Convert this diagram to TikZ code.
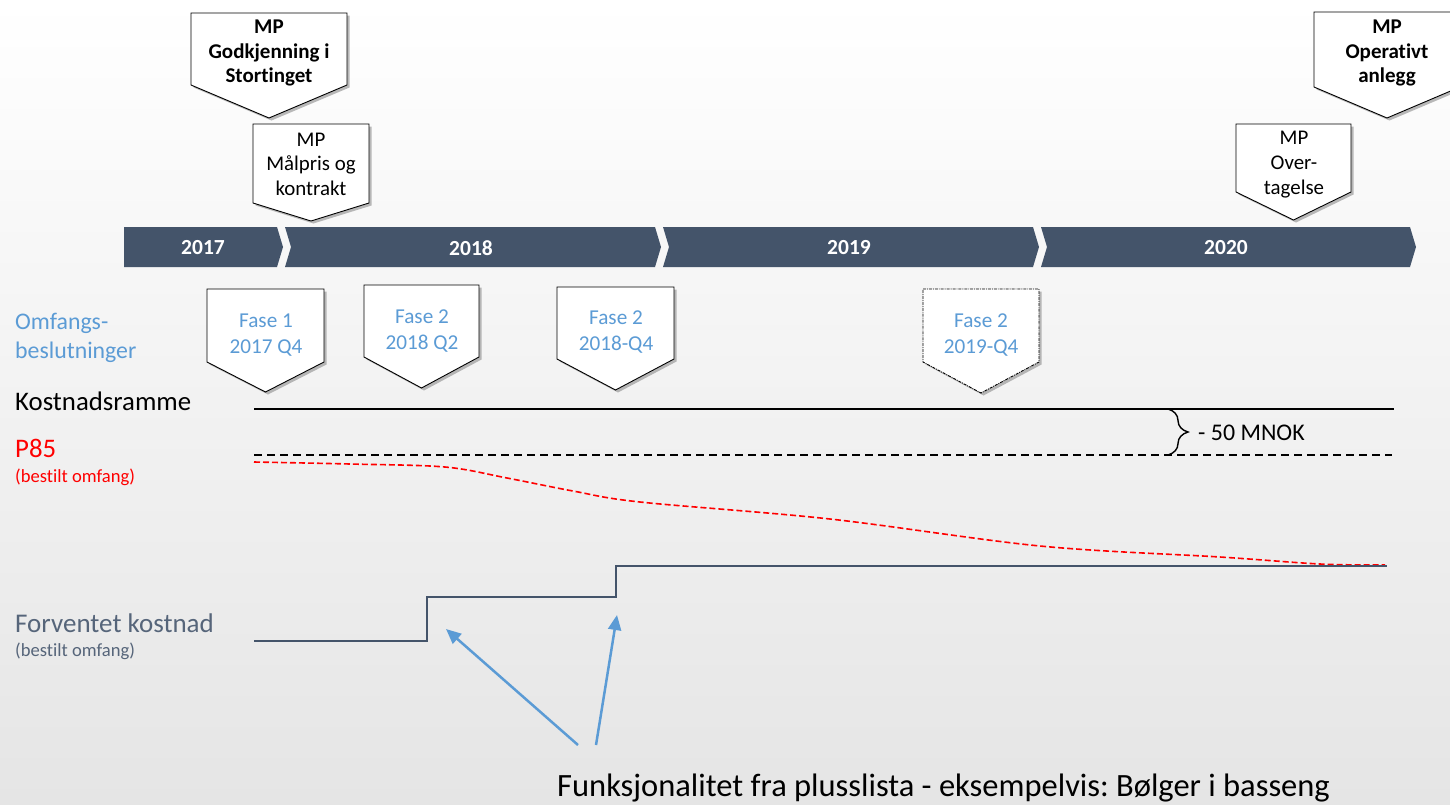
\documentclass[tikz,border=0pt]{standalone}
\usepackage{fontspec}
\setmainfont{Carlito}[Ligatures=NoCommon]
\usetikzlibrary{arrows.meta,decorations.pathreplacing}

\definecolor{slate}{HTML}{44546A}
\definecolor{skyblue}{HTML}{5B9BD5}
\definecolor{costgray}{HTML}{56657A}
\definecolor{bgbottom}{HTML}{E5E5E5}

\newcommand{\fsz}[2]{\fontsize{#1}{#2}\selectfont}

% pentagon marker with a soft drop shadow:
% #1 extra border style, #2 left x, #3 top y, #4 right x, #5 shoulder y, #6 tip y
\newcommand{\marker}[6][]{%
  \fill[markshadow,shift={(2.5,2.5)}] (#2,#3) -- (#4,#3) -- (#4,#5) -- ({(#2+#4)/2},#6) -- (#2,#5) -- cycle;
  \draw[markborder,#1] (#2,#3) -- (#4,#3) -- (#4,#5) -- ({(#2+#4)/2},#6) -- (#2,#5) -- cycle;
}

% timeline segments: first one is a home plate, the rest chevrons
\newcommand{\firstseg}[2]{%
  \fill[slate] (#1,227) -- (#2,227) -- ({#2+6},247) -- (#2,267) -- (#1,267) -- cycle;
}
\newcommand{\nextseg}[2]{%
  \fill[slate] (#1,227) -- (#2,227) -- ({#2+6},247) -- (#2,267) -- (#1,267) -- ({#1+6},247) -- cycle;
}

\tikzset{
  markshadow/.style={fill=black!45,opacity=0.6},
  markborder/.style={draw=black,fill=white,line width=0.9pt,line join=miter},
  mstext/.style={align=center,inner sep=0pt},
  fasetext/.style={align=center,inner sep=0pt,text=skyblue,font=\fsz{21.2}{26}},
  yeartext/.style={inner sep=0pt,text=white,font=\bfseries\fsz{21.5}{24}},
  lefttext/.style={anchor=base west,inner sep=0pt,align=left},
  budget/.style={line width=1.4pt,black},
  budgetdash/.style={line width=1.6pt,black,dash pattern=on 8pt off 5pt},
  p85curve/.style={line width=1.6pt,red,dash pattern=on 6pt off 3pt},
  costline/.style={line width=2pt,slate,line join=miter},
  callout/.style={line width=2.5pt,skyblue,-{Triangle[length=15pt,width=13pt]}},
}

\begin{document}
\frenchspacing
\begin{tikzpicture}[x=1pt,y=-1pt]
\useasboundingbox (0,0) rectangle (1450,804);
\clip (0,0) rectangle (1450,804);
\shade[top color=white,bottom color=bgbottom] (0,0) rectangle (1450,804);

% ---- milestones above the timeline ----
\marker{191}{13}{347}{85}{118}
\node[mstext,font=\bfseries\fsz{21}{24.5}] (mpstorting) at (269,53) {MP\\Godkjenning i\\Stortinget};
\marker{253}{124}{369}{203}{221}
\node[mstext,font=\fsz{20.9}{24.5}] (mpmalpris) at (311,164) {MP\\Målpris og\\kontrakt};
\marker{1314}{12}{1460}{87}{118}
\node[mstext,font=\bfseries\fsz{21}{24.5}] (mpoperativt) at (1387,53) {MP\\Operativt\\anlegg};
\marker{1236}{124}{1351}{192}{220}
\node[mstext,font=\fsz{20.9}{25}] (mpovertagelse) at (1294,165) {MP\\Over-\\tagelse};

% ---- timeline ----
\firstseg{124}{277}
\nextseg{285}{655}
\nextseg{663}{1033}
\nextseg{1041}{1410}
\node[yeartext] (y2017) at (203,248) {2017};
\node[yeartext] (y2018) at (471,248) {2018};
\node[yeartext] (y2019) at (849,248) {2019};
\node[yeartext] (y2020) at (1226,248) {2020};

% ---- scope decisions ----
\marker{207}{289}{324}{362}{392}
\node[fasetext] (fase1) at (266,335) {Fase 1\\2017 Q4};
\marker{364}{285}{479}{357}{388}
\node[fasetext] (fase2a) at (422,331) {Fase 2\\2018 Q2};
\marker{557}{287}{674}{359}{390}
\node[fasetext] (fase2b) at (616,332) {Fase 2\\2018-Q4};
\marker[densely dash dot,line width=0.9pt]{923}{289}{1039}{362}{393}
\node[fasetext] (fase2c) at (981,335) {Fase 2\\2019-Q4};

% ---- row labels ----
\node[lefttext,text=skyblue,font=\fsz{23.8}{28.5}] (lblomfang) at (15,358) {Omfangs-\\beslutninger};
\node[lefttext,font=\fsz{26.8}{30}] (lblramme) at (15,410) {Kostnadsramme};
\node[lefttext,text=red,font=\fsz{26.8}{30}] (lblp85) at (15,457) {P85};
\node[lefttext,text=red,font=\fsz{18.6}{22}] (lblp85sub) at (15,482) {(bestilt omfang)};
\node[lefttext,text=costgray,font=\fsz{27}{30}] (lblcost) at (15,632) {Forventet kostnad};
\node[lefttext,text=costgray,font=\fsz{18.6}{22}] (lblcostsub) at (15,656) {(bestilt omfang)};

% ---- cost frame and P85 ----
\coordinate (rammeA) at (254,409);
\coordinate (rammeB) at (1394,409);
\coordinate (p85A) at (254,455);
\coordinate (p85B) at (1392,455);
\draw[budget] (rammeA) -- (rammeB);
\draw[budgetdash] (p85A) -- (p85B);
\draw[line width=1.4pt,decorate,decoration={brace,amplitude=20pt}] (1168,409) -- (1168,455);
\node[anchor=base west,inner sep=0pt,font=\fsz{23.9}{28}] (diff) at (1198,440) {- 50 MNOK};

% P85 for the ordered scope, falling towards the expected cost
\draw[p85curve] plot[smooth,tension=0.55] coordinates {(254,462) (350,464) (445,467) (507,478) (573,491) (640,502) (830,519) (1040,546) (1220,557) (1320,564) (1385,565)};

% expected cost as a step line
\coordinate (costA) at (254,641);
\coordinate (step1) at (427,597);
\coordinate (step2) at (616,566);
\coordinate (costB) at (1387,566);
\draw[costline] (costA) -| (step1) -| (step2) -- (costB);

% ---- note with callout arrows ----
\node[anchor=base west,inner sep=0pt,font=\fsz{32.5}{36}] (note) at (557,796) {Funksjonalitet fra plusslista - eksempelvis: Bølger i basseng};
\coordinate (arrowAstart) at (578,745);
\coordinate (arrowAend) at (446,629);
\coordinate (arrowBstart) at (596,745);
\coordinate (arrowBend) at (617,615);
\draw[callout] (arrowAstart) -- (arrowAend);
\draw[callout] (arrowBstart) -- (arrowBend);
\end{tikzpicture}
\end{document}
